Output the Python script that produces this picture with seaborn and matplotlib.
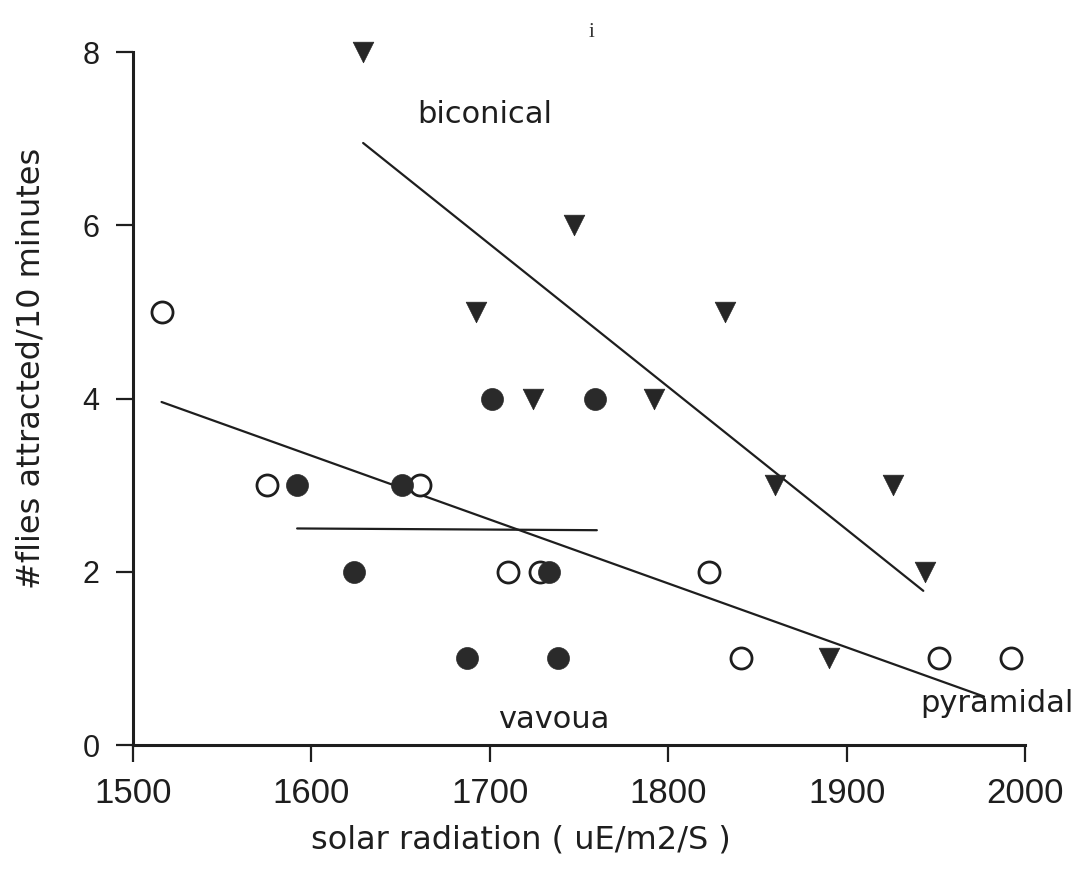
import matplotlib
matplotlib.use("Agg")
import matplotlib.pyplot as plt
import seaborn as sns
import pandas as pd

# Flies attracted per 10 minutes vs. solar radiation, three trap designs
biconical_x = [1629, 1747, 1692, 1832, 1724, 1792, 1860, 1926, 1944, 1890]
biconical_y = [8, 6, 5, 5, 4, 4, 3, 3, 2, 1]

pyramidal_x = [1516, 1575, 1661, 1710, 1728, 1823, 1841, 1952, 1992]
pyramidal_y = [5, 3, 3, 2, 2, 2, 1, 1, 1]

vavoua_x = [1701, 1759, 1592, 1651, 1624, 1733, 1687, 1738]
vavoua_y = [4, 4, 3, 3, 2, 2, 1, 1]

# Fitted regression lines (end points)
biconical_fit_x = [1629, 1943]
biconical_fit_y = [6.95, 1.78]
pyramidal_fit_x = [1516, 1977]
pyramidal_fit_y = [3.96, 0.56]
vavoua_fit_x = [1592, 1760]
vavoua_fit_y = [2.5, 2.48]

x_ticks = [1500, 1600, 1700, 1800, 1900, 2000]
y_ticks = [0, 2, 4, 6, 8]

sns.set_theme(style="ticks")
plt.rcParams["font.family"] = ["Liberation Sans", "DejaVu Sans"]

ink = "#1e1e1e"
label_font = "DejaVu Sans"

fig = plt.figure(figsize=(10.77, 8.73), dpi=100)
ax = fig.add_axes([0.1235, 0.1466, 0.8282, 0.7938])

bic = pd.DataFrame({"x": biconical_x, "y": biconical_y})
pyr = pd.DataFrame({"x": pyramidal_x, "y": pyramidal_y})
vav = pd.DataFrame({"x": vavoua_x, "y": vavoua_y})

sns.scatterplot(data=pyr, x="x", y="y", ax=ax, marker="o", s=230,
                facecolor="white", edgecolor=ink, linewidth=2.0, zorder=3,
                clip_on=False)
sns.scatterplot(data=vav, x="x", y="y", ax=ax, marker="o", s=250,
                color="#2a2a2a", edgecolor="#2a2a2a", linewidth=0.5, zorder=4,
                clip_on=False)
sns.scatterplot(data=bic, x="x", y="y", ax=ax, marker="v", s=220,
                color="#262626", edgecolor="#262626", linewidth=0.5, zorder=4,
                clip_on=False)

for fx, fy in [(biconical_fit_x, biconical_fit_y),
               (pyramidal_fit_x, pyramidal_fit_y),
               (vavoua_fit_x, vavoua_fit_y)]:
    sns.lineplot(x=fx, y=fy, ax=ax, color=ink, linewidth=1.6, zorder=2,
                 estimator=None, sort=False)

ax.text(1697, 7.18, "biconical", fontsize=22, family=label_font, color=ink,
        ha="center", va="baseline")
ax.text(1736, 0.2, "vavoua", fontsize=22, family=label_font, color=ink,
        ha="center", va="baseline")
ax.text(1984, 0.38, "pyramidal", fontsize=22, family=label_font, color=ink,
        ha="center", va="baseline")
fig.text(0.549, 0.963, "i", fontsize=15, color="#333333", family="Liberation Serif",
         ha="center", va="center")

ax.set_xlim(1500, 2000)
ax.set_ylim(0, 8)
ax.set_xticks(x_ticks)
ax.set_yticks(y_ticks)
ax.tick_params(axis="x", labelsize=25, length=12, width=1.6, pad=11, colors=ink)
ax.tick_params(axis="y", labelsize=22, length=12, width=1.6, pad=12, colors=ink)
ax.set_xlabel("solar radiation ( uE/m2/S )", fontsize=23, family=label_font, color=ink)
ax.set_ylabel("#flies attracted/10 minutes", fontsize=23, family=label_font, color=ink)
ax.xaxis.set_label_coords(0.435, -0.115)
ax.yaxis.set_label_coords(-0.097, 0.544)

sns.despine(ax=ax)
for side in ("left", "bottom"):
    ax.spines[side].set_linewidth(2.2)
    ax.spines[side].set_color(ink)

fig.savefig("out.png", dpi=100, facecolor="white")
